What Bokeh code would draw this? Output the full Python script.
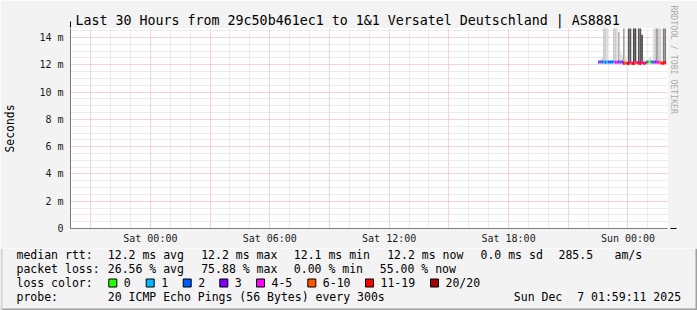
import pandas as pd
from bokeh.plotting import figure
from bokeh.models import (Range1d, FixedTicker, DatetimeTickFormatter, LinearAxis,
                          Arrow, NormalHead, ColumnDataSource, Title)
from bokeh.core.properties import value
from bokeh.embed import file_html
from bokeh.resources import INLINE

# ---------------- data ----------------
title_text = "Last 30 Hours from 29c50b461ec1 to 1&1 Versatel Deutschland | AS8881"
range_start = "2025-12-05 19:59:11"
range_end = "2025-12-07 01:59:11"
first_sample = "2025-12-06 22:30:00"
step_seconds = 300

# median rtt per 5-minute sample (ms)
median_ms = [12.20, 12.20, 12.21, 12.20, 12.19, 12.20, 12.21, 12.20, 12.20, 12.20,
             12.19, 12.18, 12.20, 12.19, 12.20, 12.12, 12.13, 12.11, 12.10, 12.18,
             12.12, 12.10, 12.13, 12.16, 12.11, 12.10, 12.17, 12.12, 12.13, 12.20,
             12.21, 12.20, 12.20, 12.19, 12.20, 12.18, 12.19, 12.15, 12.13, 12.12,
             12.16]
# lost pings out of 20 per sample
loss_pings = [2, 4, 2, 1, 2, 1, 2, 2, 2, 1,
              4, 5, 2, 4, 2, 12, 8, 13, 14, 5,
              12, 14, 9, 5, 13, 15, 4, 11, 12, 2,
              0, 0, 2, 4, 2, 5, 4, 7, 11, 12,
              11]
# highest ping of the sample (ms) and number of pings in the top smoke band
smoke_max_ms = [12.20, 12.40, 12.60, 19.5, 21.0, 17.8, 12.21, 12.20, 12.20, 18.6,
                20.2, 16.9, 14.40, 12.90, 12.70, 22.4, 12.50, 12.11, 25.3, 23.8,
                12.12, 27.1, 24.6, 12.16, 26.0, 22.9, 14.20, 12.50, 12.13, 12.20,
                12.40, 12.60, 12.30, 17.2, 19.9, 21.4, 18.3, 17.6, 12.13, 20.8,
                22.2]
smoke_pings = [0, 1, 1, 2, 2, 1, 0, 0, 0, 2,
               2, 1, 3, 1, 1, 4, 1, 0, 8, 8,
               0, 9, 9, 0, 8, 8, 9, 1, 0, 0,
               1, 1, 1, 1, 2, 5, 2, 2, 0, 6,
               6]

y_max = 14.66
y_ticks = [0, 2, 4, 6, 8, 10, 12, 14]
y_tick_labels = ["0", "2 m", "4 m", "6 m", "8 m", "10 m", "12 m", "14 m"]
x_label_times = ["2025-12-06 00:00", "2025-12-06 06:00", "2025-12-06 12:00",
                 "2025-12-06 18:00", "2025-12-07 00:00"]

loss_levels = ["0", "1", "2", "3", "4-5", "6-10", "11-19", "20/20"]
loss_upper = [0, 1, 2, 3, 5, 10, 19, 20]
loss_colors = ["#26ff00", "#00b8ff", "#0059ff", "#7e00ff", "#ff00ff",
               "#ff5500", "#ff0000", "#a10000"]

rtt_stats = ["12.2 ms avg", "12.2 ms max", "12.1 ms min", "12.2 ms now",
             "0.0 ms sd", "285.5", "am/s"]
loss_stats = ["26.56 % avg", "75.88 % max", "0.00 % min", "55.00 % now"]
probe_text = "20 ICMP Echo Pings (56 Bytes) every 300s"
stamp_parts = ["Sun Dec", "7 01:59:11 2025"]
watermark = "RRDTOOL / TOBI OETIKER"

# ---------------- helpers ----------------
def ms(ts):
    return pd.Timestamp(ts).value / 1e6

def loss_color(n):
    for up, c in zip(loss_upper, loss_colors):
        if n <= up:
            return c
    return loss_colors[-1]

def smoke_color(k):
    g = int(190 / 10 * (10 - k)) + 50
    return "#%02x%02x%02x" % (g, g, g)

MONO = "DejaVu Sans Mono"
BG = "#f3f3f3"

# ---------------- main graph ----------------
p = figure(width=697, height=248, output_backend="svg", toolbar_location=None,
           x_axis_type="datetime",
           x_range=Range1d(ms(range_start), ms(range_end)),
           y_range=Range1d(0, y_max),
           min_border_left=67, min_border_right=30, min_border_top=28,
           min_border_bottom=20)
p.border_fill_color = BG
p.background_fill_color = "#ffffff"
p.outline_line_color = None

p.title.text = title_text
p.title.align = "left"
p.title.offset = 5
p.title.standoff = 2
p.title.text_font = MONO
p.title.text_font_size = "13.3px"
p.title.text_font_style = "normal"
p.title.text_color = "#000000"

t0 = ms(first_sample)
step = step_seconds * 1000
lefts = [t0 + i * step for i in range(len(median_ms))]
rights = [l + step for l in lefts]

# smoke
sm = dict(left=[], right=[], bottom=[], top=[], color=[])
for i in range(len(median_ms)):
    if smoke_pings[i] > 0 and smoke_max_ms[i] > median_ms[i]:
        sm["left"].append(lefts[i]); sm["right"].append(rights[i])
        sm["bottom"].append(median_ms[i]); sm["top"].append(smoke_max_ms[i])
        sm["color"].append(smoke_color(smoke_pings[i]))
p.quad(left="left", right="right", bottom="bottom", top="top", fill_color="color",
       line_color=None, source=ColumnDataSource(sm))

# median line coloured by loss
md = ColumnDataSource(dict(x0=lefts, x1=rights, y=median_ms,
                           color=[loss_color(n) for n in loss_pings]))
p.segment(x0="x0", y0="y", x1="x1", y1="y", line_color="color", line_width=3,
          line_cap="butt", source=md)

# axes
p.xaxis.ticker = FixedTicker(ticks=[ms(t) for t in x_label_times])
p.xaxis.formatter = DatetimeTickFormatter(hours="%a %H:%M", days="%a %H:%M",
                                          hourmin="%a %H:%M", minutes="%a %H:%M",
                                          months="%a %H:%M", years="%a %H:%M",
                                          strip_leading_zeros=False)
p.yaxis.ticker = FixedTicker(ticks=y_ticks)
p.yaxis.major_label_overrides = {t: l for t, l in zip(y_ticks, y_tick_labels)}
for ax in (p.xaxis, p.yaxis):
    ax.axis_line_color = None
    ax.major_tick_line_color = None
    ax.minor_tick_line_color = None
    ax.major_tick_out = 0
    ax.major_tick_in = 0
    ax.major_label_text_font = MONO
    ax.major_label_text_font_size = "10px"
    ax.major_label_text_color = "#1a1a1a"
p.xaxis.major_label_standoff = 4
p.yaxis.major_label_standoff = 7
p.yaxis.axis_label = "Seconds"
p.yaxis.axis_label_text_font = MONO
p.yaxis.axis_label_text_font_size = "11.4px"
p.yaxis.axis_label_text_font_style = "normal"
p.yaxis.axis_label_text_color = "#000000"
p.yaxis.axis_label_standoff = 19

# watermark on the right: an empty spacer axis, then a vertical title
spacer = LinearAxis(ticker=FixedTicker(ticks=[]), axis_line_color=None,
                    major_tick_line_color=None, minor_tick_line_color=None,
                    major_tick_out=15, major_tick_in=0, major_label_standoff=0)
p.add_layout(spacer, "right")
p.add_layout(Title(text=watermark, align="left", offset=-23, vertical_align="bottom",
                   standoff=2, text_font=MONO, text_font_size="8.2px",
                   text_font_style="normal", text_color="#ababab"), "right")

# grids
hour = 3600 * 1000
g0 = ms("2025-12-05 21:00")
major_x = [g0 + 3 * hour * k for k in range(10)]
minor_x = [ms("2025-12-05 20:00") + hour * k for k in range(30)]
minor_x = [m for m in minor_x if all(abs(m - M) > 1 for M in major_x)]
p.xgrid.ticker = FixedTicker(ticks=major_x, minor_ticks=minor_x)
p.ygrid.ticker = FixedTicker(ticks=y_ticks,
                             minor_ticks=[v / 2 for v in range(0, 30) if v % 4 != 0])
for g in (p.xgrid, p.ygrid):
    g.grid_line_color = "#f2a6a6"
    g.grid_line_dash = "1 1"
    g.grid_line_width = 1
    g.minor_grid_line_color = "#d8d8d8"
    g.minor_grid_line_dash = "1 1"
    g.minor_grid_line_width = 1

# axis lines with arrows
head = dict(size=6, fill_color="#9a1414", line_color="#9a1414", line_width=1)
p.add_layout(Arrow(x_start=-4, y_start=0, x_end=606, y_end=0,
                   start_units="screen", end_units="screen",
                   line_color="black", line_width=1, end=NormalHead(**head)))
p.add_layout(Arrow(x_start=0, y_start=-3, x_end=0, y_end=207,
                   start_units="screen", end_units="screen",
                   line_color="black", line_width=1, end=NormalHead(**head)))

# ---------------- legend block (pixel coordinates) ----------------
TOP = 248
q = figure(width=697, height=310 - TOP, output_backend="svg", toolbar_location=None,
           x_range=Range1d(0, 697), y_range=Range1d(310, TOP),
           min_border=0, x_axis_location=None, y_axis_location=None)
q.grid.visible = False
q.outline_line_color = None
q.background_fill_color = BG
q.border_fill_color = BG

rows_y = [254, 268, 282, 296]
tx, ty, tt = [], [], []
def put(x, y, s):
    tx.append(x); ty.append(y); tt.append(s)

put(16, rows_y[0], "median rtt:")
for x, s in zip([107.3, 200.7, 293.3, 386.7, 480, 558, 614], rtt_stats):
    put(x, rows_y[0], s)
put(16, rows_y[1], "packet loss:")
for x, s in zip([107.3, 200.7, 293.3, 379.3], loss_stats):
    put(x, rows_y[1], s)
put(16, rows_y[2], "loss color:")
box_x = [108.3, 145.7, 182.7, 219.3, 256, 307.3, 365, 430]
for bx, name in zip(box_x, loss_levels):
    put(bx + 15, rows_y[2], name)
put(16, rows_y[3], "probe:")
put(107.3, rows_y[3], probe_text)
put(513.3, rows_y[3], stamp_parts[0])
put(576.7, rows_y[3], stamp_parts[1])

q.text(x=tx, y=ty, text=tt, text_font=value(MONO), text_font_size=value("11.5px"),
       text_baseline="middle", text_align="left", text_color="#000000")
q.quad(left=box_x, right=[b + 8 for b in box_x], top=[278.5] * len(box_x),
       bottom=[286.5] * len(box_x), fill_color=loss_colors, line_color="black",
       line_width=1)

# bottom / side frame of the canvas
q.quad(left=[0, 695, 0], right=[697, 697, 2], top=[308, TOP, TOP],
       bottom=[310, 310, 310], fill_color=["#a0a0a0", "#a0a0a0", "#d2d2d2"],
       line_color=None)

open("out.html", "w").write(file_html([p, q], INLINE))
